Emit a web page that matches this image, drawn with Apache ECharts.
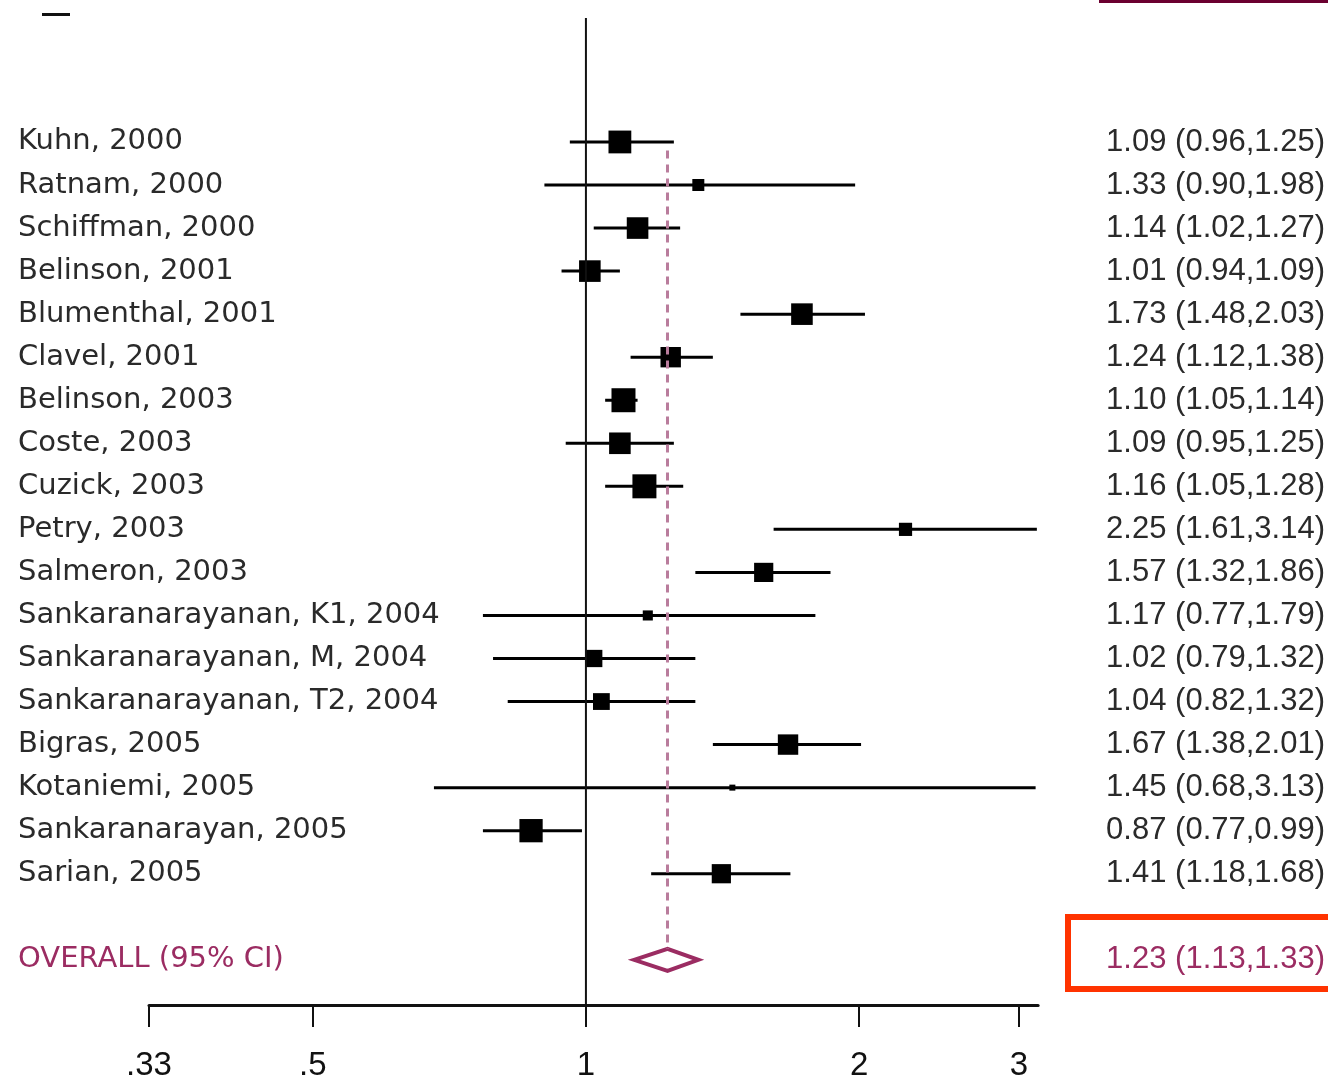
<!DOCTYPE html>
<html>
<head>
<meta charset="utf-8">
<script src="https://cdn.jsdelivr.net/npm/echarts@6/dist/echarts.min.js"></script>
<style>
html, body { margin: 0; padding: 0; background: #fff; }
#main { width: 1328px; height: 1083px; }
</style>
</head>
<body>
<div id="main"></div>
<script>
// studies, top to bottom
var studies = [
	'Kuhn, 2000', 'Ratnam, 2000', 'Schiffman, 2000', 'Belinson, 2001',
	'Blumenthal, 2001', 'Clavel, 2001', 'Belinson, 2003', 'Coste, 2003',
	'Cuzick, 2003', 'Petry, 2003', 'Salmeron, 2003',
	'Sankaranarayanan, K1, 2004', 'Sankaranarayanan, M, 2004',
	'Sankaranarayanan, T2, 2004', 'Bigras, 2005', 'Kotaniemi, 2005',
	'Sankaranarayan, 2005', 'Sarian, 2005'
];
var estimates = [1.09, 1.33, 1.14, 1.01, 1.73, 1.24, 1.10, 1.09, 1.16, 2.25, 1.57, 1.17, 1.02, 1.04, 1.67, 1.45, 0.87, 1.41];
var lowers    = [0.96, 0.90, 1.02, 0.94, 1.48, 1.12, 1.05, 0.95, 1.05, 1.61, 1.32, 0.77, 0.79, 0.82, 1.38, 0.68, 0.77, 1.18];
var uppers    = [1.25, 1.98, 1.27, 1.09, 2.03, 1.38, 1.14, 1.25, 1.28, 3.14, 1.86, 1.79, 1.32, 1.32, 2.01, 3.13, 0.99, 1.68];
// relative study weight
var weights   = [0.95, 0.5, 0.9, 0.9, 0.9, 0.85, 1.0, 0.9, 1.0, 0.55, 0.8, 0.42, 0.72, 0.7, 0.85, 0.25, 0.97, 0.8];

var overallLabel = 'OVERALL (95% CI)';
var overall = { est: 1.23, lo: 1.13, hi: 1.33 };
var overallRow = 19;

var tickValues = [0.33, 0.5, 1, 2, 3];
var tickLabels = ['.33', '.5', '1', '2', '3'];
var xMin = 0.33, xMax = 3.15;

var fmt = function(v) { return v.toFixed(2); };
var ln = Math.log;

var rowLabels = {};
var ciLabels = {};
studies.forEach(function(s, i) {
	rowLabels[i] = s;
	ciLabels[i] = fmt(estimates[i]) + ' (' + fmt(lowers[i]) + ',' + fmt(uppers[i]) + ')';
});
rowLabels[overallRow] = '{o|' + overallLabel + '}';
ciLabels[overallRow] = '{o|' + fmt(overall.est) + ' (' + fmt(overall.lo) + ',' + fmt(overall.hi) + ')}';
var labelRows = studies.map(function(s, i) { return i; }).concat([overallRow]);

var studyData = studies.map(function(s, i) {
	return [ln(lowers[i]), ln(uppers[i]), ln(estimates[i]), i, weights[i]];
});

var NAME_FONT = 'DejaVu Sans';
var NUM_FONT = 'Liberation Sans';
var TEXT = '#2a2a2a';
var PURPLE = '#9b2c62';
var yMin = -2.88, yMax = 20.05;

var chart = echarts.init(document.getElementById('main'));
chart.setOption({
	backgroundColor: '#fff',
	animation: false,
	grid: { left: 149, right: 288, top: 18, bottom: 78 },
	xAxis: {
		type: 'value',
		position: 'bottom',
		min: ln(xMin),
		max: ln(xMax),
		splitLine: { show: false },
		axisLine: { onZero: false, lineStyle: { color: '#111', width: 3 } },
		axisTick: {
			customValues: tickValues.map(ln),
			length: 22,
			inside: false,
			lineStyle: { color: '#111', width: 2 }
		},
		axisLabel: {
			customValues: tickValues.map(ln),
			margin: 44,
			fontFamily: NUM_FONT,
			fontSize: 33,
			color: '#111',
			formatter: function(v) {
				var best = 0;
				tickValues.forEach(function(t, k) {
					if (Math.abs(ln(t) - v) < Math.abs(ln(tickValues[best]) - v)) best = k;
				});
				return tickLabels[best];
			}
		}
	},
	yAxis: [
		{
			type: 'value', inverse: true, min: yMin, max: yMax, position: 'left',
			axisLine: { show: false }, axisTick: { show: false }, splitLine: { show: false },
			axisLabel: {
				customValues: labelRows,
				align: 'left', margin: 131,
				fontFamily: NAME_FONT, fontSize: 29, color: TEXT,
				formatter: function(v) { return rowLabels[Math.round(v)] || ''; },
				rich: { o: { fontFamily: NAME_FONT, fontSize: 29, color: PURPLE } }
			}
		},
		{
			type: 'value', inverse: true, min: yMin, max: yMax, position: 'right',
			axisLine: { show: false }, axisTick: { show: false }, splitLine: { show: false },
			axisLabel: {
				customValues: labelRows,
				align: 'left', margin: 68,
				fontFamily: NUM_FONT, fontSize: 31, color: TEXT,
				formatter: function(v) { return ciLabels[Math.round(v)] || ''; },
				rich: { o: { fontFamily: NUM_FONT, fontSize: 31, color: PURPLE } }
			}
		}
	],
	series: [
		{
			// line of no effect
			type: 'line', silent: true, symbol: 'none',
			data: [[0, yMin], [0, yMax]],
			lineStyle: { color: '#111', width: 2 }
		},
		{
			// overall estimate
			type: 'line', silent: true, symbol: 'none',
			data: [[ln(overall.est), 0.2], [ln(overall.est), overallRow - 0.25]],
			lineStyle: { color: '#b97c9c', width: 3, type: [8, 6] }
		},
		{
			type: 'custom',
			clip: true,
			data: studyData,
			renderItem: function(params, api) {
				var a = api.coord([api.value(0), api.value(3)]);
				var b = api.coord([api.value(1), api.value(3)]);
				var c = api.coord([api.value(2), api.value(3)]);
				var side = 24 * api.value(4);
				return {
					type: 'group',
					children: [
						{ type: 'line', shape: { x1: a[0], y1: a[1], x2: b[0], y2: b[1] },
						  style: { stroke: '#000', lineWidth: 3 } },
						{ type: 'rect', shape: { x: c[0] - side / 2, y: c[1] - side / 2, width: side, height: side },
						  style: { fill: '#000' } }
					]
				};
			}
		},
		{
			type: 'custom',
			data: [[ln(overall.lo), ln(overall.hi), ln(overall.est), overallRow]],
			renderItem: function(params, api) {
				var l = api.coord([api.value(0), api.value(3)]);
				var r = api.coord([api.value(1), api.value(3)]);
				var m = api.coord([api.value(2), api.value(3)]);
				var h = 11;
				return {
					type: 'polygon',
					shape: { points: [[l[0], l[1]], [m[0], m[1] - h], [r[0], r[1]], [m[0], m[1] + h]] },
					style: { fill: '#fff', stroke: PURPLE, lineWidth: 4 }
				};
			}
		}
	],
	graphic: [
		{ type: 'rect', shape: { x: 1068, y: 917, width: 270, height: 72 },
		  style: { fill: 'none', stroke: '#ff3300', lineWidth: 6 } },
		{ type: 'rect', shape: { x: 1099, y: 0, width: 229, height: 3 }, style: { fill: '#6b0030' } },
		{ type: 'rect', shape: { x: 42, y: 13, width: 28, height: 3 }, style: { fill: '#111' } }
	]
});
</script>
</body>
</html>
